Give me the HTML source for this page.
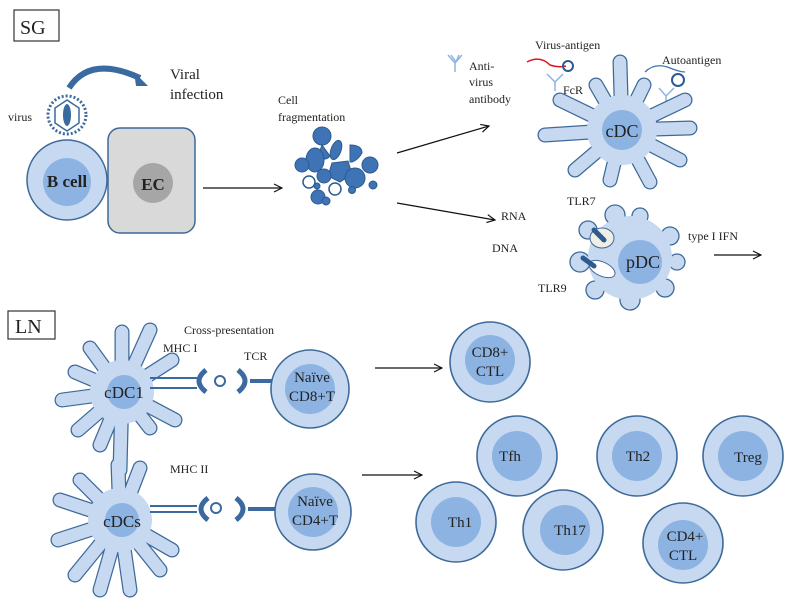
<!DOCTYPE html>
<html><head><meta charset="utf-8"><style>html,body{margin:0;padding:0;background:#fff}svg{display:block}text{font-family:"Liberation Serif",serif;fill:#222}</style></head><body>
<svg width="788" height="603" viewBox="0 0 788 603" xmlns="http://www.w3.org/2000/svg">
<defs>
<marker id="ah" markerWidth="10" markerHeight="10" refX="9" refY="5" orient="auto" markerUnits="userSpaceOnUse"><path d="M1,1 L9,5 L1,9" fill="none" stroke="#111" stroke-width="1.2"/></marker>
</defs>
<rect x="14" y="10" width="45" height="31" fill="#fff" stroke="#333" stroke-width="1.2"/>
<text x="20" y="34" font-size="20">SG</text>
<rect x="8" y="311" width="47" height="28" fill="#fff" stroke="#333" stroke-width="1.2"/>
<text x="15" y="333" font-size="20">LN</text>

<path d="M69,88 Q90,55 140,78" fill="none" stroke="#3a6aa0" stroke-width="6"/>
<path d="M134,72 L148,86 L136,86 Z" fill="#3a6aa0"/>
<text x="170" y="79" font-size="15">Viral</text>
<text x="170" y="99" font-size="15">infection</text>
<text x="8" y="121" font-size="12">virus</text>
<circle cx="67" cy="115" r="19" fill="#fff" stroke="#3a6aa0" stroke-width="3" stroke-dasharray="2 2"/>
<polygon points="67,100 79,108 79,123 67,131 55,123 55,108" fill="#fff" stroke="#3a6aa0" stroke-width="1.5"/>
<ellipse cx="67" cy="115" rx="4" ry="11" fill="#3a6aa0"/>

<rect x="108" y="128" width="87" height="105" rx="12" fill="#d9d9d9" stroke="#3e6a9a" stroke-width="1.5"/>
<circle cx="153" cy="183" r="20" fill="#a6a6a6"/>
<text x="153" y="190" font-size="17" font-weight="bold" text-anchor="middle">EC</text>
<circle cx="67" cy="180" r="40" fill="#c6d9f0" stroke="#3e6a9a" stroke-width="1.5"/>
<circle cx="67" cy="182" r="24" fill="#8db3e2"/>
<text x="67" y="187" font-size="17" font-weight="bold" text-anchor="middle">B cell</text>

<line x1="203" y1="188" x2="282" y2="188" stroke="#111" stroke-width="1.2" marker-end="url(#ah)"/>
<text x="278" y="104" font-size="12">Cell</text>
<text x="278" y="121" font-size="12">fragmentation</text>
<g fill="#3e74b6" stroke="#2d5a90" stroke-width="1">
<circle cx="322" cy="136" r="9"/><path d="M322,145 L330,156 Q325,162 318,156 Z"/>
<ellipse cx="315" cy="160" rx="9" ry="12"/>
<ellipse cx="336" cy="150" rx="5" ry="10" transform="rotate(20 336 150)"/>
<path d="M350,145 Q362,145 362,153 Q358,160 352,162 L350,162 Z"/>
<path d="M332,163 L348,161 L352,174 L340,182 L328,176 Z"/>
<circle cx="302" cy="165" r="7"/><circle cx="370" cy="165" r="8"/>
<circle cx="324" cy="176" r="7"/><circle cx="355" cy="178" r="10"/>
<circle cx="318" cy="197" r="7"/><circle cx="326" cy="201" r="4"/><circle cx="352" cy="190" r="3.5"/><circle cx="373" cy="185" r="4"/><circle cx="317" cy="186" r="3"/>
</g>
<circle cx="309" cy="182" r="6" fill="#fff" stroke="#2d5a90" stroke-width="1.5"/>
<circle cx="335" cy="189" r="6" fill="#fff" stroke="#2d5a90" stroke-width="1.5"/>

<line x1="397" y1="153" x2="489" y2="126" stroke="#111" stroke-width="1.2" marker-end="url(#ah)"/>
<line x1="397" y1="203" x2="495" y2="220" stroke="#111" stroke-width="1.2" marker-end="url(#ah)"/>

<g fill="none" stroke="#8db3e2" stroke-width="1.5">
<path d="M448,55 L455,63 L455,72 M462,55 L455,63 M451,55 L456,62 M459,55 L456,62"/>
<path d="M547,74 L555,82 L555,91 M563,74 L555,82"/>
<path d="M659,88 L666,96 L666,104 M674,88 L666,96"/>
</g>
<text x="469" y="70" font-size="12">Anti-</text>
<text x="469" y="86" font-size="12">virus</text>
<text x="469" y="103" font-size="12">antibody</text>
<text x="535" y="49" font-size="12">Virus-antigen</text>
<text x="563" y="94" font-size="12">FcR</text>
<text x="662" y="64" font-size="12">Autoantigen</text>
<path d="M527,62 Q540,55 550,65 Q558,68 566,66" fill="none" stroke="#e0141e" stroke-width="1.5"/>
<circle cx="568" cy="66" r="5" fill="none" stroke="#2d5a90" stroke-width="2"/>
<path d="M645,72 Q655,62 670,68 Q680,72 685,72" fill="none" stroke="#3e74b6" stroke-width="1.3"/>
<circle cx="678" cy="80" r="6" fill="none" stroke="#2d5a90" stroke-width="2"/>

<g stroke-linecap="round">
<path stroke="#3e6a9a" stroke-width="15" d="M622,130 L620,62 M622,130 L596,85 M622,130 L644,85 M622,130 L560,100 M622,130 L545,135 M622,130 L575,170 M622,130 L610,180 M622,130 L650,182 M622,130 L680,160 M622,130 L690,128 M622,130 L685,100"/>
<path stroke="#c6d9f0" stroke-width="12.5" d="M622,130 L620,62 M622,130 L596,85 M622,130 L644,85 M622,130 L560,100 M622,130 L545,135 M622,130 L575,170 M622,130 L610,180 M622,130 L650,182 M622,130 L680,160 M622,130 L690,128 M622,130 L685,100"/>
</g>
<circle cx="622" cy="130" r="35" fill="#c6d9f0"/>
<circle cx="622" cy="130" r="20" fill="#8db3e2"/>
<text x="622" y="137" font-size="18" text-anchor="middle">cDC</text>

<g fill="#c6d9f0" stroke="#3e6a9a" stroke-width="1.3">
<circle cx="588" cy="230" r="9"/><circle cx="615" cy="215" r="10"/><circle cx="640" cy="216" r="8"/><circle cx="670" cy="236" r="9"/><circle cx="677" cy="262" r="8"/><circle cx="665" cy="288" r="9"/><circle cx="630" cy="300" r="10"/><circle cx="595" cy="290" r="9"/><circle cx="580" cy="262" r="10"/>
</g>
<circle cx="630" cy="258" r="42" fill="#c6d9f0"/>
<circle cx="640" cy="262" r="22" fill="#8db3e2"/>
<ellipse cx="602" cy="238" rx="12" ry="10" fill="#eeeee6" stroke="#3e6a9a" stroke-width="1"/>
<line x1="594" y1="230" x2="604" y2="240" stroke="#2d5a90" stroke-width="5" stroke-linecap="round"/>
<ellipse cx="602" cy="269" rx="14" ry="7" fill="#fff" stroke="#3e6a9a" stroke-width="1" transform="rotate(25 602 269)"/>
<line x1="583" y1="258" x2="594" y2="266" stroke="#2d5a90" stroke-width="5" stroke-linecap="round"/>
<text x="643" y="268" font-size="18" text-anchor="middle">pDC</text>
<text x="567" y="205" font-size="12">TLR7</text>
<text x="501" y="220" font-size="12">RNA</text>
<text x="492" y="252" font-size="12">DNA</text>
<text x="538" y="292" font-size="12">TLR9</text>
<text x="688" y="240" font-size="12">type I IFN</text>
<line x1="714" y1="255" x2="761" y2="255" stroke="#111" stroke-width="1.2" marker-end="url(#ah)"/>

<g stroke-linecap="round">
<g stroke="#3e6a9a" stroke-width="15">
<path d="M122,392 L122,332 M122,392 L150,330 M122,392 L172,360 M122,392 L90,348 M122,392 L75,372 M122,392 L62,400 M122,392 L78,430 M122,392 L100,445 M122,392 L150,428 M122,392 L175,420 M122,392 L120,470"/>
<path d="M120,520 L118,465 M120,520 L140,468 M120,520 L80,480 M120,520 L60,500 M120,520 L58,540 M120,520 L75,575 M120,520 L100,590 M120,520 L130,590 M120,520 L160,570 M120,520 L172,550"/>
</g>
<g stroke="#c6d9f0" stroke-width="12.5">
<path d="M122,392 L122,332 M122,392 L150,330 M122,392 L172,360 M122,392 L90,348 M122,392 L75,372 M122,392 L62,400 M122,392 L78,430 M122,392 L100,445 M122,392 L150,428 M122,392 L175,420 M122,392 L120,470"/>
<path d="M120,520 L118,465 M120,520 L140,468 M120,520 L80,480 M120,520 L60,500 M120,520 L58,540 M120,520 L75,575 M120,520 L100,590 M120,520 L130,590 M120,520 L160,570 M120,520 L172,550"/>
</g>
</g>
<circle cx="122" cy="392" r="32" fill="#c6d9f0"/>
<circle cx="124" cy="392" r="17" fill="#8db3e2"/>
<text x="124" y="398" font-size="17" text-anchor="middle">cDC1</text>
<circle cx="120" cy="520" r="32" fill="#c6d9f0"/>
<circle cx="122" cy="520" r="17" fill="#8db3e2"/>
<text x="122" y="527" font-size="17" text-anchor="middle">cDCs</text>

<g stroke="#3a6aa0" fill="none">
<line x1="150" y1="378" x2="197" y2="378" stroke-width="2"/><line x1="150" y1="388" x2="197" y2="388" stroke-width="2"/>
<path d="M206,370 Q192,381 206,392" stroke-width="5"/>
<circle cx="220" cy="381" r="5" stroke-width="2"/>
<path d="M238,370 Q252,381 238,392" stroke-width="5"/>
<line x1="250" y1="381" x2="272" y2="381" stroke-width="4"/>
<line x1="150" y1="506" x2="197" y2="506" stroke-width="2"/><line x1="150" y1="512" x2="197" y2="512" stroke-width="2"/>
<path d="M208,498 Q194,509 208,520" stroke-width="5"/>
<circle cx="216" cy="508" r="5" stroke-width="2"/>
<path d="M236,498 Q250,509 236,520" stroke-width="5"/>
<line x1="248" y1="509" x2="276" y2="509" stroke-width="4"/>
</g>
<text x="184" y="334" font-size="12">Cross-presentation</text>
<text x="163" y="352" font-size="12">MHC I</text>
<text x="244" y="360" font-size="12">TCR</text>
<text x="170" y="473" font-size="12">MHC II</text>

<g stroke="#3e6a9a" stroke-width="1.6">
<circle cx="310" cy="389" r="39" fill="#c6d9f0"/><circle cx="313" cy="512" r="38" fill="#c6d9f0"/>
<circle cx="490" cy="362" r="40" fill="#c6d9f0"/>
<circle cx="517" cy="456" r="40" fill="#c6d9f0"/><circle cx="637" cy="456" r="40" fill="#c6d9f0"/><circle cx="743" cy="456" r="40" fill="#c6d9f0"/>
<circle cx="456" cy="522" r="40" fill="#c6d9f0"/><circle cx="563" cy="530" r="40" fill="#c6d9f0"/><circle cx="683" cy="543" r="40" fill="#c6d9f0"/>
</g>
<g fill="#8db3e2">
<circle cx="310" cy="389" r="25"/><circle cx="313" cy="512" r="25"/><circle cx="490" cy="360" r="25"/>
<circle cx="517" cy="456" r="25"/><circle cx="637" cy="456" r="25"/><circle cx="743" cy="456" r="25"/>
<circle cx="456" cy="522" r="25"/><circle cx="565" cy="530" r="25"/><circle cx="683" cy="545" r="25"/>
</g>
<g font-size="15" text-anchor="middle">
<text x="312" y="382">Naïve</text><text x="312" y="401">CD8+T</text>
<text x="315" y="506">Naïve</text><text x="315" y="525">CD4+T</text>
<text x="490" y="357">CD8+</text><text x="490" y="376">CTL</text>
<text x="510" y="461">Tfh</text><text x="638" y="461">Th2</text><text x="748" y="462">Treg</text>
<text x="460" y="527">Th1</text><text x="570" y="535">Th17</text>
<text x="685" y="541">CD4+</text><text x="683" y="560">CTL</text>
</g>
<line x1="375" y1="368" x2="442" y2="368" stroke="#111" stroke-width="1.2" marker-end="url(#ah)"/>
<line x1="362" y1="475" x2="422" y2="475" stroke="#111" stroke-width="1.2" marker-end="url(#ah)"/>
</svg>
</body></html>
